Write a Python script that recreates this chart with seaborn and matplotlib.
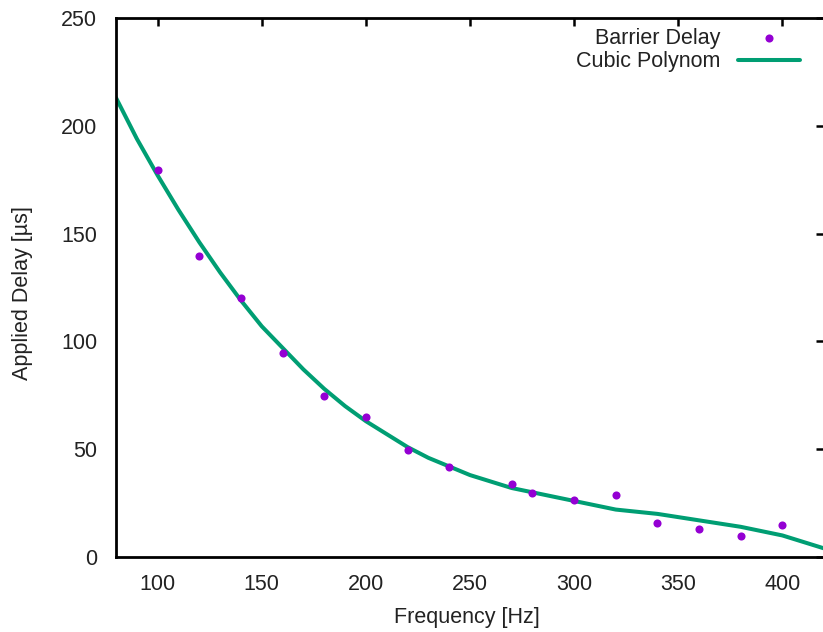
import matplotlib
matplotlib.use("Agg")
import matplotlib.pyplot as plt
import seaborn as sns
import pandas as pd

# measured data
freq_pts = [100, 120, 140, 160, 180, 200, 220, 240, 270, 280, 300, 320, 340, 360, 380, 400]
delay_pts = [179.5, 139.6, 120, 94.8, 74.7, 65.1, 49.6, 41.6, 33.7, 29.8, 26.4, 28.6, 15.9, 13.0, 9.9, 14.8]

# fitted curve
freq_fit = [80, 90, 100, 110, 120, 130, 140, 150, 160, 170, 180, 190, 200, 210, 220, 230,
            240, 250, 260, 270, 280, 290, 300, 310, 320, 330, 340, 350, 360, 370, 380, 390,
            400, 410, 420]
delay_fit = [213, 194, 177, 161, 146, 132, 119, 107, 97, 87, 78, 70, 63, 57, 51, 46,
             42, 38, 35, 32, 30, 28, 26, 24, 22, 21, 20, 18.5, 17, 15.5, 14, 12,
             10, 7, 4]

x_ticks = [100, 150, 200, 250, 300, 350, 400]
y_ticks = [0, 50, 100, 150, 200, 250]

sns.set_style("white")
plt.rcParams['font.family'] = ['Liberation Sans', 'DejaVu Sans']

txt = "#222222"
fs = 15.5
fig = plt.figure(figsize=(8.23, 6.32), dpi=100)
ax = fig.add_axes([116/823, (632-557)/632, (824-116)/823, (557-18)/632])

df_pts = pd.DataFrame({"f": freq_pts, "d": delay_pts})
df_fit = pd.DataFrame({"f": freq_fit, "d": delay_fit})

sns.lineplot(data=df_fit, x="f", y="d", ax=ax, color="#009E73", linewidth=2.9,
             label="Cubic Polynom", zorder=2)
sns.scatterplot(data=df_pts, x="f", y="d", ax=ax, color="#9400D3", s=34,
                linewidth=0, marker="o", label="Barrier Delay", zorder=3)

ax.set_xlim(80, 420)
ax.set_ylim(0, 250)
ax.set_xticks(x_ticks)
ax.set_yticks(y_ticks)
ax.tick_params(direction="in", length=6, width=1.8, top=True, right=True,
               labelsize=fs, colors="black", labelcolor=txt)
ax.tick_params(axis="y", pad=13.5)
ax.tick_params(axis="x", pad=12.5)
for s in ax.spines.values():
    s.set_linewidth(2)
    s.set_color("black")
ax.set_xlabel("Frequency [Hz]", fontsize=fs, color=txt)
ax.set_ylabel("Applied Delay [µs]", fontsize=fs, color=txt)
ax.xaxis.set_label_coords((467 - 116) / 708, (557 - 607) / 539)
ax.yaxis.set_label_coords((33 - 116) / 708, 0.49)

h, l = ax.get_legend_handles_labels()
order = [l.index("Barrier Delay"), l.index("Cubic Polynom")]
leg = ax.legend([h[i] for i in order], [l[i] for i in order], loc="upper right",
                frameon=False, markerfirst=False, fontsize=fs, handlelength=2.9,
                handletextpad=0.8, labelspacing=0.1, borderpad=0, borderaxespad=0,
                bbox_to_anchor=(800 / 823, (632 - 28) / 632),
                bbox_transform=fig.transFigure)
for t in leg.get_texts():
    t.set_color(txt)

fig.savefig("out.png", dpi=100)
